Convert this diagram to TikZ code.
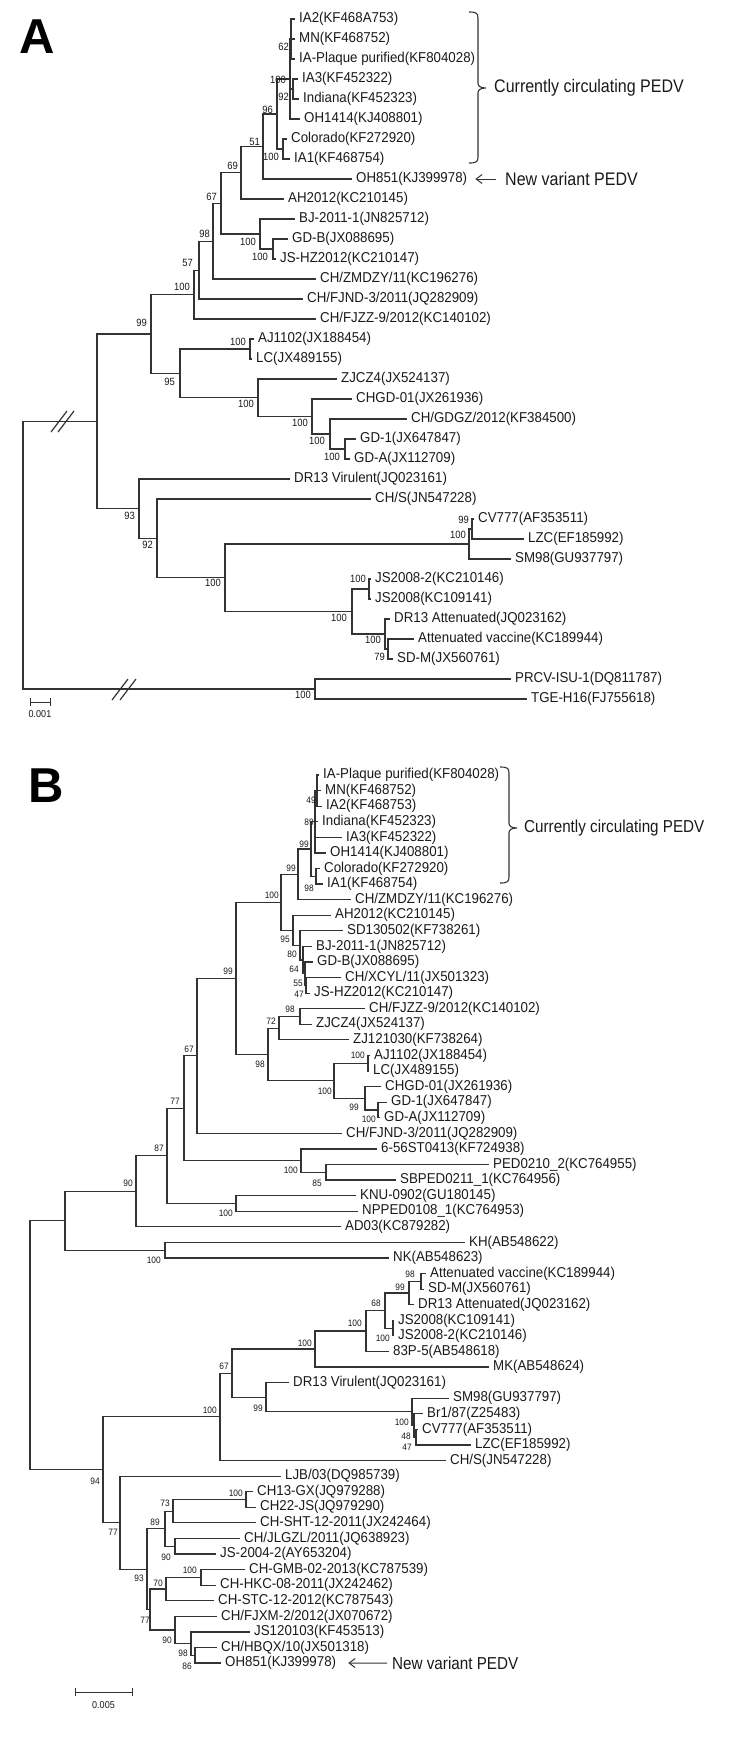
\documentclass[tikz,border=0pt]{standalone}
\usepackage{fontspec}
\setmainfont{Liberation Sans}
\newfontfamily\condfont[FakeStretch=0.93]{Liberation Sans}
\newfontfamily\narrowfont[FakeStretch=0.88]{Liberation Sans}
\newfontfamily\numfont[FakeStretch=0.9]{Liberation Sans}
\usetikzlibrary{arrows.meta}
\definecolor{ln}{HTML}{333333}
\definecolor{tx}{HTML}{1A1A1A}
\tikzset{
 br/.style={draw=ln, line width=1.2pt},
 lf/.style={anchor=west, inner xsep=4pt, inner ysep=0pt, text=tx, font=\condfont\fontsize{14.3}{16}\selectfont},
 bsA/.style={anchor=east, inner sep=0pt, text=tx, font=\numfont\fontsize{10.5}{11}\selectfont},
 bsB/.style={anchor=east, inner sep=0pt, text=tx, font=\numfont\fontsize{9.3}{10}\selectfont},
 bigA/.style={anchor=west, inner sep=0pt, text=tx, font=\narrowfont\fontsize{18.2}{20}\selectfont},
 bigB/.style={anchor=west, inner sep=0pt, text=tx, font=\narrowfont\fontsize{17.3}{19}\selectfont},
 panel/.style={anchor=base west, inner sep=0pt, text=black, font=\bfseries\fontsize{49}{50}\selectfont},
 arr/.style={draw=ln, line width=1pt, -{Straight Barb[length=6pt,width=9pt]}},
 sclab/.style={inner sep=0pt, text=tx, font=\numfont\fontsize{10}{11}\selectfont},
}
\newcommand\leafbr[2]{\draw[br] (#1) |- (#2.west);}
\newcommand\nodebr[2]{\draw[br] (#1) |- (#2);}
\newcommand\lfnode[4]{\node[lf] (#1) at (#2,#3) {#4};}
\newcommand\bsa[4]{\node[bsA] (#1) at (#3,#4) {#2};}
\newcommand\bsb[4]{\node[bsB] (#1) at (#3,#4) {#2};}
\begin{document}
\begin{tikzpicture}[x=1pt,y=-1pt]
\fill[white] (0,0) rectangle (750,1740);
\useasboundingbox (0,0) rectangle (750,1740);

%================ PANEL A =================
\node[panel] (labA) at (19,53) {A};

% internal nodes
\coordinate (rootA) at (23,555);
\coordinate (aIn) at (97,421.3);
\coordinate (aOut) at (315,689);
\coordinate (a99) at (151,333.98);
\coordinate (a100a) at (194,294.55);
\coordinate (a57) at (199,270.1);
\coordinate (a98) at (213,241.2);
\coordinate (a67) at (221,203.4);
\coordinate (a69) at (241,172.75);
\coordinate (a51) at (263,146.5);
\coordinate (a96) at (277,114);
\coordinate (aUS) at (290,79);
\coordinate (a62) at (291,39);
\coordinate (a92) at (293,89);
\coordinate (aCol) at (283,149);
\coordinate (aBJ) at (260,234);
\coordinate (aGD) at (273,249);
\coordinate (a95) at (180,373.4);
\coordinate (aAJ) at (250,349);
\coordinate (aZJ) at (258,397.75);
\coordinate (aCHGD) at (312,416.5);
\coordinate (aGDGZ) at (330,434);
\coordinate (aGD1) at (345,449);
\coordinate (a93) at (139,508.7);
\coordinate (a92b) at (157,538.4);
\coordinate (aBig) at (225,577.75);
\coordinate (aSM) at (469,544);
\coordinate (aCV) at (472,529);
\coordinate (aJSc) at (352,611.5);
\coordinate (aJS) at (369,589);
\coordinate (aAtt) at (385,634);
\coordinate (a79) at (388,649);

% leaves
\lfnode{ta1}{295}{19}{IA2(KF468A753)}
\lfnode{ta2}{295}{39}{MN(KF468752)}
\lfnode{ta3}{295}{59}{IA-Plaque purified(KF804028)}
\lfnode{ta4}{298}{79}{IA3(KF452322)}
\lfnode{ta5}{299}{99}{Indiana(KF452323)}
\lfnode{ta6}{300}{119}{OH1414(KJ408801)}
\lfnode{ta7}{287}{139}{Colorado(KF272920)}
\lfnode{ta8}{290}{159}{IA1(KF468754)}
\lfnode{ta9}{352}{179}{OH851(KJ399978)}
\lfnode{ta10}{284}{199}{AH2012(KC210145)}
\lfnode{ta11}{295}{219}{BJ-2011-1(JN825712)}
\lfnode{ta12}{288}{239}{GD-B(JX088695)}
\lfnode{ta13}{276}{259}{JS-HZ2012(KC210147)}
\lfnode{ta14}{316}{279}{CH/ZMDZY/11(KC196276)}
\lfnode{ta15}{303}{299}{CH/FJND-3/2011(JQ282909)}
\lfnode{ta16}{316}{319}{CH/FJZZ-9/2012(KC140102)}
\lfnode{ta17}{254}{339}{AJ1102(JX188454)}
\lfnode{ta18}{252}{359}{LC(JX489155)}
\lfnode{ta19}{337}{379}{ZJCZ4(JX524137)}
\lfnode{ta20}{352}{399}{CHGD-01(JX261936)}
\lfnode{ta21}{407}{419}{CH/GDGZ/2012(KF384500)}
\lfnode{ta22}{356}{439}{GD-1(JX647847)}
\lfnode{ta23}{350}{459}{GD-A(JX112709)}
\lfnode{ta24}{290}{479}{DR13 Virulent(JQ023161)}
\lfnode{ta25}{371}{499}{CH/S(JN547228)}
\lfnode{ta26}{474}{519}{CV777(AF353511)}
\lfnode{ta27}{524}{539}{LZC(EF185992)}
\lfnode{ta28}{511}{559}{SM98(GU937797)}
\lfnode{ta29}{371}{579}{JS2008-2(KC210146)}
\lfnode{ta30}{371}{599}{JS2008(KC109141)}
\lfnode{ta31}{390}{619}{DR13 Attenuated(JQ023162)}
\lfnode{ta32}{414}{639}{Attenuated vaccine(KC189944)}
\lfnode{ta33}{393}{659}{SD-M(JX560761)}
\lfnode{ta34}{511}{679}{PRCV-ISU-1(DQ811787)}
\lfnode{ta35}{527}{699}{TGE-H16(FJ755618)}

% branches
\nodebr{rootA}{aIn}\nodebr{rootA}{aOut}
\nodebr{aIn}{a99}\nodebr{aIn}{a93}
\nodebr{a99}{a100a}\nodebr{a99}{a95}
\nodebr{a100a}{a57}\leafbr{a100a}{ta16}
\nodebr{a57}{a98}\leafbr{a57}{ta15}
\nodebr{a98}{a67}\leafbr{a98}{ta14}
\nodebr{a67}{a69}\nodebr{a67}{aBJ}
\nodebr{a69}{a51}\leafbr{a69}{ta10}
\nodebr{a51}{a96}\leafbr{a51}{ta9}
\nodebr{a96}{aUS}\nodebr{a96}{aCol}
\nodebr{aUS}{a62}\nodebr{aUS}{a92}\leafbr{aUS}{ta6}
\leafbr{a62}{ta1}\leafbr{a62}{ta2}\leafbr{a62}{ta3}
\leafbr{a92}{ta4}\leafbr{a92}{ta5}
\leafbr{aCol}{ta7}\leafbr{aCol}{ta8}
\leafbr{aBJ}{ta11}\nodebr{aBJ}{aGD}
\leafbr{aGD}{ta12}\leafbr{aGD}{ta13}
\nodebr{a95}{aAJ}\nodebr{a95}{aZJ}
\leafbr{aAJ}{ta17}\leafbr{aAJ}{ta18}
\leafbr{aZJ}{ta19}\nodebr{aZJ}{aCHGD}
\leafbr{aCHGD}{ta20}\nodebr{aCHGD}{aGDGZ}
\leafbr{aGDGZ}{ta21}\nodebr{aGDGZ}{aGD1}
\leafbr{aGD1}{ta22}\leafbr{aGD1}{ta23}
\leafbr{a93}{ta24}\nodebr{a93}{a92b}
\leafbr{a92b}{ta25}\nodebr{a92b}{aBig}
\nodebr{aBig}{aSM}\nodebr{aBig}{aJSc}
\nodebr{aSM}{aCV}\leafbr{aSM}{ta28}
\leafbr{aCV}{ta26}\leafbr{aCV}{ta27}
\nodebr{aJSc}{aJS}\nodebr{aJSc}{aAtt}
\leafbr{aJS}{ta29}\leafbr{aJS}{ta30}
\leafbr{aAtt}{ta31}\nodebr{aAtt}{a79}
\leafbr{a79}{ta32}\leafbr{a79}{ta33}
\leafbr{aOut}{ta34}\leafbr{aOut}{ta35}

% break marks
\draw[br] (51,432) -- (67,411);
\draw[br] (58,432) -- (74,411);
\draw[br] (112,700) -- (128,679);
\draw[br] (120,700) -- (136,679);

% bootstrap A
\bsa{ba1}{62}{289}{47}
\bsa{ba2}{100}{286}{80}
\bsa{ba3}{92}{289}{97}
\bsa{ba4}{96}{273}{110}
\bsa{ba5}{51}{260}{142}
\bsa{ba6}{100}{279}{157}
\bsa{ba7}{69}{238}{166}
\bsa{ba8}{67}{217}{197}
\bsa{ba9}{100}{256}{242}
\bsa{ba10}{100}{268}{257}
\bsa{ba11}{98}{210}{234}
\bsa{ba12}{57}{193}{263}
\bsa{ba13}{100}{190}{287}
\bsa{ba14}{99}{147}{323}
\bsa{ba15}{100}{246}{342}
\bsa{ba16}{95}{175}{382}
\bsa{ba17}{100}{254}{404}
\bsa{ba18}{100}{308}{423}
\bsa{ba19}{100}{325}{441}
\bsa{ba20}{100}{340}{457}
\bsa{ba21}{93}{135}{516}
\bsa{ba22}{92}{153}{545}
\bsa{ba23}{99}{469}{520}
\bsa{ba24}{100}{466}{535}
\bsa{ba25}{100}{221}{583}
\bsa{ba26}{100}{366}{579}
\bsa{ba27}{100}{347}{618}
\bsa{ba28}{100}{381}{640}
\bsa{ba29}{79}{385}{657}
\bsa{ba30}{100}{311}{695}

% bracket, annotations A
\draw[draw=ln, line width=1.1pt] (469,12) .. controls (476,12) and (478,13) .. (478,18) -- (478,83)
  .. controls (478,86) and (480,88) .. (486,88) .. controls (480,88) and (478,90) .. (478,93)
  -- (478,157) .. controls (478,162) and (476,163) .. (469,163);
\node[bigA] (ccA) at (494,88) {Currently circulating PEDV};
\node[bigA] (nvA) at (505,179) {New variant PEDV};
\draw[arr, shorten <=9pt, shorten >=4pt] (nvA.west) -- (ta9.east);

% scale bar A
\coordinate (sA1) at (30,702);
\coordinate (sA2) at (50,702);
\draw[draw=ln, line width=1pt] (sA1) -- (sA2);
\draw[draw=ln, line width=1pt] (30,698) -- (30,706) (50,698) -- (50,706);
\node[sclab] (slA) at (40,714) {0.001};

%================ PANEL B =================
\node[panel] (labB) at (28,802) {B};

\coordinate (rootB) at (30,1345.25);
\coordinate (bU) at (65,1220.77);
\coordinate (b94) at (103,1469.72);
\coordinate (b90) at (136,1191.34);
\coordinate (bKH) at (165,1250.19);
\coordinate (b87) at (167,1155.85);
\coordinate (b77) at (184,1108.24);
\coordinate (b100f) at (236,1203.45);
\coordinate (b67) at (197,1055.87);
\coordinate (b100e) at (301,1160.61);
\coordinate (b85) at (326,1172.29);
\coordinate (b99B) at (236,978.40);
\coordinate (b100a) at (281,902.32);
\coordinate (b98b) at (268,1054.47);
\coordinate (b99b) at (298,874.32);
\coordinate (b95) at (293,930.31);
\coordinate (b99a) at (311,849.0);
\coordinate (b89) at (315,821.74);
\coordinate (b98) at (316,876.27);
\coordinate (b49) at (317,790.58);
\coordinate (b80) at (300,945.41);
\coordinate (b64) at (303,960.01);
\coordinate (b55) at (305,973.65);
\coordinate (b47) at (306,985.33);
\coordinate (b72) at (279,1028.18);
\coordinate (b98c) at (300,1016.49);
\coordinate (b100d) at (334,1080.76);
\coordinate (bAJ) at (368,1063.23);
\coordinate (b99c) at (365,1098.29);
\coordinate (bGD1) at (378,1109.97);
\coordinate (b100h) at (220,1416.83);
\coordinate (b77c) at (120,1522.60);
\coordinate (b67b) at (232,1373.13);
\coordinate (b100j) at (315,1349.03);
\coordinate (b100i) at (366,1331.01);
\coordinate (b68) at (385,1310.57);
\coordinate (b99d) at (409,1293.04);
\coordinate (b98d) at (421,1281.35);
\coordinate (bJS) at (393,1328.09);
\coordinate (b99e) at (266,1397.23);
\coordinate (b100k) at (412,1411.83);
\coordinate (b48) at (414,1425.47);
\coordinate (bCV) at (416,1437.15);
\coordinate (b93) at (147,1569.10);
\coordinate (b89b) at (165,1528.69);
\coordinate (b73) at (173,1511.16);
\coordinate (bCH13) at (246,1499.47);
\coordinate (b90c) at (175,1546.21);
\coordinate (b77d) at (150,1609.51);
\coordinate (b70) at (166,1589.06);
\coordinate (b100l) at (201,1577.37);
\coordinate (b90b) at (175,1629.96);
\coordinate (b98e) at (191,1643.59);
\coordinate (b86) at (195,1655.27);

% leaves B
\lfnode{tb1}{319}{775.00}{IA-Plaque purified(KF804028)}
\lfnode{tb2}{321}{790.58}{MN(KF468752)}
\lfnode{tb3}{322}{806.16}{IA2(KF468753)}
\lfnode{tb4}{318}{821.74}{Indiana(KF452323)}
\lfnode{tb5}{342}{837.32}{IA3(KF452322)}
\lfnode{tb6}{326}{852.90}{OH1414(KJ408801)}
\lfnode{tb7}{320}{868.48}{Colorado(KF272920)}
\lfnode{tb8}{323}{884.06}{IA1(KF468754)}
\lfnode{tb9}{351}{899.64}{CH/ZMDZY/11(KC196276)}
\lfnode{tb10}{331}{915.22}{AH2012(KC210145)}
\lfnode{tb11}{343}{930.80}{SD130502(KF738261)}
\lfnode{tb12}{312}{946.38}{BJ-2011-1(JN825712)}
\lfnode{tb13}{313}{961.96}{GD-B(JX088695)}
\lfnode{tb14}{341}{977.54}{CH/XCYL/11(JX501323)}
\lfnode{tb15}{310}{993.12}{JS-HZ2012(KC210147)}
\lfnode{tb16}{365}{1008.70}{CH/FJZZ-9/2012(KC140102)}
\lfnode{tb17}{312}{1024.28}{ZJCZ4(JX524137)}
\lfnode{tb18}{349}{1039.86}{ZJ121030(KF738264)}
\lfnode{tb19}{370}{1055.44}{AJ1102(JX188454)}
\lfnode{tb20}{369}{1071.02}{LC(JX489155)}
\lfnode{tb21}{381}{1086.60}{CHGD-01(JX261936)}
\lfnode{tb22}{387}{1102.18}{GD-1(JX647847)}
\lfnode{tb23}{380}{1117.76}{GD-A(JX112709)}
\lfnode{tb24}{342}{1133.34}{CH/FJND-3/2011(JQ282909)}
\lfnode{tb25}{377}{1148.92}{6-56ST0413(KF724938)}
\lfnode{tb26}{489}{1164.50}{PED0210\_2(KC764955)}
\lfnode{tb27}{396}{1180.08}{SBPED0211\_1(KC764956)}
\lfnode{tb28}{356}{1195.66}{KNU-0902(GU180145)}
\lfnode{tb29}{358}{1211.24}{NPPED0108\_1(KC764953)}
\lfnode{tb30}{341}{1226.82}{AD03(KC879282)}
\lfnode{tb31}{465}{1242.40}{KH(AB548622)}
\lfnode{tb32}{389}{1257.98}{NK(AB548623)}
\lfnode{tb33}{426}{1273.56}{Attenuated vaccine(KC189944)}
\lfnode{tb34}{424}{1289.14}{SD-M(JX560761)}
\lfnode{tb35}{414}{1304.72}{DR13 Attenuated(JQ023162)}
\lfnode{tb36}{394}{1320.30}{JS2008(KC109141)}
\lfnode{tb37}{394}{1335.88}{JS2008-2(KC210146)}
\lfnode{tb38}{389}{1351.46}{83P-5(AB548618)}
\lfnode{tb39}{489}{1367.04}{MK(AB548624)}
\lfnode{tb40}{289}{1382.62}{DR13 Virulent(JQ023161)}
\lfnode{tb41}{449}{1398.20}{SM98(GU937797)}
\lfnode{tb42}{423}{1413.78}{Br1/87(Z25483)}
\lfnode{tb43}{418}{1429.36}{CV777(AF353511)}
\lfnode{tb44}{471}{1444.94}{LZC(EF185992)}
\lfnode{tb45}{446}{1460.52}{CH/S(JN547228)}
\lfnode{tb46}{281}{1476.10}{LJB/03(DQ985739)}
\lfnode{tb47}{253}{1491.68}{CH13-GX(JQ979288)}
\lfnode{tb48}{256}{1507.26}{CH22-JS(JQ979290)}
\lfnode{tb49}{256}{1522.84}{CH-SHT-12-2011(JX242464)}
\lfnode{tb50}{240}{1538.42}{CH/JLGZL/2011(JQ638923)}
\lfnode{tb51}{216}{1554.00}{JS-2004-2(AY653204)}
\lfnode{tb52}{245}{1569.58}{CH-GMB-02-2013(KC787539)}
\lfnode{tb53}{216}{1585.16}{CH-HKC-08-2011(JX242462)}
\lfnode{tb54}{214}{1600.74}{CH-STC-12-2012(KC787543)}
\lfnode{tb55}{217}{1616.32}{CH/FJXM-2/2012(JX070672)}
\lfnode{tb56}{250}{1631.90}{JS120103(KF453513)}
\lfnode{tb57}{217}{1647.48}{CH/HBQX/10(JX501318)}
\lfnode{tb58}{221}{1663.06}{OH851(KJ399978)}

% branches B
\nodebr{rootB}{bU}\nodebr{rootB}{b94}
\nodebr{bU}{b90}\nodebr{bU}{bKH}
\nodebr{b90}{b87}\leafbr{b90}{tb30}
\nodebr{b87}{b77}\nodebr{b87}{b100f}
\nodebr{b77}{b67}\nodebr{b77}{b100e}
\nodebr{b67}{b99B}\leafbr{b67}{tb24}
\nodebr{b99B}{b100a}\nodebr{b99B}{b98b}
\nodebr{b100a}{b99b}\nodebr{b100a}{b95}
\nodebr{b99b}{b99a}\leafbr{b99b}{tb9}
\nodebr{b99a}{b89}\nodebr{b99a}{b98}
\nodebr{b89}{b49}\leafbr{b89}{tb4}\leafbr{b89}{tb5}\leafbr{b89}{tb6}
\leafbr{b49}{tb1}\leafbr{b49}{tb2}\leafbr{b49}{tb3}
\leafbr{b98}{tb7}\leafbr{b98}{tb8}
\leafbr{b95}{tb10}\nodebr{b95}{b80}
\leafbr{b80}{tb11}\nodebr{b80}{b64}
\leafbr{b64}{tb12}\nodebr{b64}{b55}
\leafbr{b55}{tb13}\nodebr{b55}{b47}
\leafbr{b47}{tb14}\leafbr{b47}{tb15}
\nodebr{b98b}{b72}\nodebr{b98b}{b100d}
\nodebr{b72}{b98c}\leafbr{b72}{tb18}
\leafbr{b98c}{tb16}\leafbr{b98c}{tb17}
\nodebr{b100d}{bAJ}\nodebr{b100d}{b99c}
\leafbr{bAJ}{tb19}\leafbr{bAJ}{tb20}
\leafbr{b99c}{tb21}\nodebr{b99c}{bGD1}
\leafbr{bGD1}{tb22}\leafbr{bGD1}{tb23}
\leafbr{b100e}{tb25}\nodebr{b100e}{b85}
\leafbr{b85}{tb26}\leafbr{b85}{tb27}
\leafbr{b100f}{tb28}\leafbr{b100f}{tb29}
\leafbr{bKH}{tb31}\leafbr{bKH}{tb32}
\nodebr{b94}{b100h}\nodebr{b94}{b77c}
\nodebr{b100h}{b67b}\leafbr{b100h}{tb45}
\nodebr{b67b}{b100j}\nodebr{b67b}{b99e}
\nodebr{b100j}{b100i}\leafbr{b100j}{tb39}
\nodebr{b100i}{b68}\leafbr{b100i}{tb38}
\nodebr{b68}{b99d}\nodebr{b68}{bJS}
\nodebr{b99d}{b98d}\leafbr{b99d}{tb35}
\leafbr{b98d}{tb33}\leafbr{b98d}{tb34}
\leafbr{bJS}{tb36}\leafbr{bJS}{tb37}
\leafbr{b99e}{tb40}\nodebr{b99e}{b100k}
\leafbr{b100k}{tb41}\nodebr{b100k}{b48}
\leafbr{b48}{tb42}\nodebr{b48}{bCV}
\leafbr{bCV}{tb43}\leafbr{bCV}{tb44}
\leafbr{b77c}{tb46}\nodebr{b77c}{b93}
\nodebr{b93}{b89b}\nodebr{b93}{b77d}
\nodebr{b89b}{b73}\nodebr{b89b}{b90c}
\nodebr{b73}{bCH13}\leafbr{b73}{tb49}
\leafbr{bCH13}{tb47}\leafbr{bCH13}{tb48}
\leafbr{b90c}{tb50}\leafbr{b90c}{tb51}
\nodebr{b77d}{b70}\nodebr{b77d}{b90b}
\nodebr{b70}{b100l}\leafbr{b70}{tb54}
\leafbr{b100l}{tb52}\leafbr{b100l}{tb53}
\leafbr{b90b}{tb55}\nodebr{b90b}{b98e}
\leafbr{b98e}{tb56}\nodebr{b98e}{b86}
\leafbr{b86}{tb57}\leafbr{b86}{tb58}

% bootstrap B
\bsb{bb1}{49}{316}{800}
\bsb{bb2}{89}{314}{822}
\bsb{bb3}{99}{309}{844}
\bsb{bb4}{99}{296}{868}
\bsb{bb5}{98}{314}{888}
\bsb{bb6}{100}{279}{895}
\bsb{bb7}{95}{290}{939}
\bsb{bb8}{80}{297}{954}
\bsb{bb9}{64}{299}{969}
\bsb{bb10}{55}{303}{983}
\bsb{bb11}{47}{304}{994}
\bsb{bb12}{99}{233}{971}
\bsb{bb13}{98}{295}{1009}
\bsb{bb14}{72}{276}{1021}
\bsb{bb15}{98}{265}{1064}
\bsb{bb16}{100}{365}{1055}
\bsb{bb17}{100}{332}{1091}
\bsb{bb18}{99}{359}{1107}
\bsb{bb19}{100}{376}{1119}
\bsb{bb20}{67}{194}{1049}
\bsb{bb21}{77}{180}{1101}
\bsb{bb22}{100}{298}{1170}
\bsb{bb23}{85}{322}{1183}
\bsb{bb24}{87}{164}{1148}
\bsb{bb25}{100}{233}{1213}
\bsb{bb26}{90}{133}{1183}
\bsb{bb27}{100}{161}{1260}
\bsb{bb28}{98}{415}{1274}
\bsb{bb29}{99}{405}{1287}
\bsb{bb30}{68}{381}{1303}
\bsb{bb31}{100}{390}{1338}
\bsb{bb32}{100}{362}{1323}
\bsb{bb33}{100}{312}{1343}
\bsb{bb34}{67}{229}{1366}
\bsb{bb35}{99}{263}{1408}
\bsb{bb36}{100}{409}{1422}
\bsb{bb37}{48}{411}{1436}
\bsb{bb38}{47}{412}{1447}
\bsb{bb39}{100}{217}{1410}
\bsb{bb40}{94}{100}{1481}
\bsb{bb41}{77}{118}{1532}
\bsb{bb42}{100}{243}{1493}
\bsb{bb43}{73}{170}{1503}
\bsb{bb44}{89}{160}{1522}
\bsb{bb45}{90}{171}{1557}
\bsb{bb46}{93}{144}{1578}
\bsb{bb47}{100}{197}{1570}
\bsb{bb48}{70}{163}{1583}
\bsb{bb49}{77}{150}{1620}
\bsb{bb50}{90}{172}{1640}
\bsb{bb51}{98}{188}{1653}
\bsb{bb52}{86}{192}{1666}

% bracket, annotations B
\draw[draw=ln, line width=1.1pt] (500,767) .. controls (507,767) and (509,768) .. (509,773) -- (509,823)
  .. controls (509,826) and (511,828) .. (517,828) .. controls (511,828) and (509,830) .. (509,833)
  -- (509,877) .. controls (509,882) and (507,883) .. (500,883);
\node[bigB] (ccB) at (524,828) {Currently circulating PEDV};
\node[bigB] (nvB) at (392,1663) {New variant PEDV};
\draw[arr, shorten <=5pt, shorten >=8pt] (nvB.west) -- (tb58.east);

% scale bar B
\coordinate (sB1) at (75,1692);
\coordinate (sB2) at (132,1692);
\draw[draw=ln, line width=1pt] (sB1) -- (sB2);
\draw[draw=ln, line width=1pt] (75,1688) -- (75,1696) (132,1688) -- (132,1696);
\node[sclab] (slB) at (103.5,1705) {0.005};
\end{tikzpicture}
\end{document}
